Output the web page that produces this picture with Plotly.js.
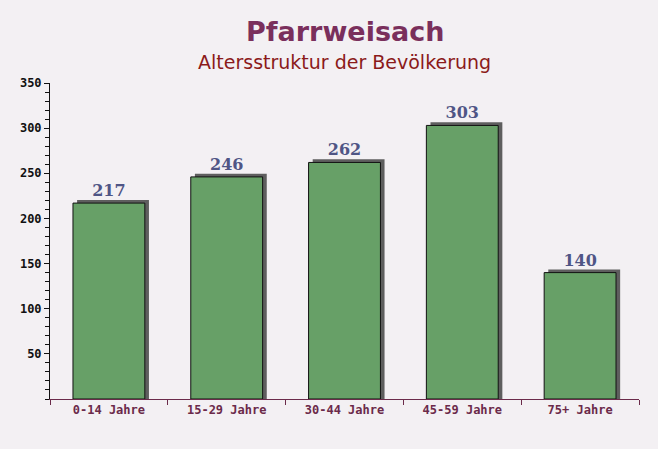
<!DOCTYPE html>
<html>
<head>
<meta charset="utf-8">
<script src="https://cdn.plot.ly/plotly-3.0.1.min.js"></script>
<style>
  html, body { margin: 0; padding: 0; background: #f3f0f3; }
  #chart { width: 658px; height: 449px; }
</style>
</head>
<body>
<div id="chart"></div>
<script>
// Altersstruktur Pfarrweisach
var categories = ['0-14 Jahre', '15-29 Jahre', '30-44 Jahre', '45-59 Jahre', '75+ Jahre'];
var values = [217, 246, 262, 303, 140];
var yTicks = [50, 100, 150, 200, 250, 300, 350];

var barWidth = 0.61;
// shadow sticks out a few px to the right and above
var shadowDx = 0.035;
var shadowDy = 3.5;

var shadow = {
  x: categories,
  y: values.map(v => v + shadowDy),
  type: 'bar',
  width: barWidth,
  offset: -barWidth / 2 + shadowDx,
  marker: { color: '#5e5e5e', line: { width: 0 } },
  hoverinfo: 'skip',
  showlegend: false
};

var bars = {
  x: categories,
  y: values,
  type: 'bar',
  width: barWidth,
  offset: -barWidth / 2,
  marker: { color: '#67a067', line: { color: '#111', width: 1 } },
  text: values.map(String),
  textposition: 'outside',
  cliponaxis: false,
  textfont: { family: 'DejaVu Serif', size: 16, color: '#4f5585', weight: 'bold' },
  showlegend: false
};

var layout = {
  width: 658,
  height: 449,
  margin: { l: 50, r: 19, t: 83, b: 50 },
  paper_bgcolor: '#f3f0f3',
  plot_bgcolor: 'rgba(0,0,0,0)',
  barmode: 'overlay',
  annotations: [
    {
      text: '<b>Pfarrweisach</b>',
      xref: 'paper', yref: 'paper', x: 0.5, y: 1,
      xanchor: 'center', yanchor: 'middle', yshift: 52,
      showarrow: false,
      font: { family: 'DejaVu Sans', size: 27, color: '#7a2f5c' }
    },
    {
      text: 'Altersstruktur der Bevölkerung',
      xref: 'paper', yref: 'paper', x: 0.5, y: 1,
      xanchor: 'center', yanchor: 'middle', yshift: 21,
      showarrow: false,
      font: { family: 'DejaVu Sans', size: 19, color: '#8b1a1a' }
    }
  ],
  xaxis: {
    showgrid: false,
    showline: true,
    linecolor: '#6b2a4a',
    linewidth: 1,
    ticks: 'outside',
    ticklen: 5,
    tickcolor: '#6b2a4a',
    tickson: 'boundaries',
    tickfont: { family: 'DejaVu Sans Mono', size: 12, color: '#6b2a4a', weight: 'bold' },
    zeroline: false
  },
  yaxis: {
    range: [0, 350],
    tickvals: yTicks,
    ticktext: yTicks.map(String),
    showgrid: false,
    showline: true,
    linecolor: '#111',
    linewidth: 1,
    ticks: 'outside',
    ticklen: 5,
    tickcolor: '#111',
    minor: { dtick: 10, ticks: 'outside', ticklen: 4, tickcolor: '#111' },
    tickfont: { family: 'DejaVu Sans Mono', size: 12, color: '#111', weight: 'bold' },
    zeroline: false
  }
};

Plotly.newPlot('chart', [shadow, bars], layout, { displayModeBar: false, staticPlot: true });
</script>
</body>
</html>
